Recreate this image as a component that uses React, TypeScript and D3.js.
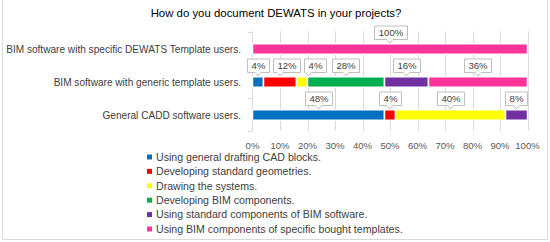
import React, { useEffect, useRef } from 'react';
import * as d3 from 'd3';

const title = 'How do you document DEWATS in your projects?';
const categories = [
	'BIM software with specific DEWATS Template users.',
	'BIM software with generic template users.',
	'General CADD software users.',
];
const seriesNames = [
	'Using general drafting CAD blocks.',
	'Developing standard geometries.',
	'Drawing the systems.',
	'Developing BIM components.',
	'Using standard components of BIM software.',
	'Using BIM components of specific bought templates.',
];
const seriesColors = ['#0070C0', '#FF0000', '#FFFF00', '#00B050', '#7030A0', '#FF3399'];
// one value per category, same order as categories
const cadBlocks = [0, 4, 48];
const stdGeometries = [0, 12, 4];
const drawingSystems = [0, 4, 40];
const bimComponents = [0, 28, 0];
const stdBimComponents = [0, 16, 8];
const boughtTemplates = [100, 36, 0];
const xTicks = [0, 10, 20, 30, 40, 50, 60, 70, 80, 90, 100];

const W = 550;
const H = 242;

const App: React.FC = () => {
	const ref = useRef<SVGGElement>(null);

	useEffect(() => {
		const g = d3.select(ref.current);
		g.selectAll('*').remove();

		const font = 'Liberation Sans, Arial, sans-serif';
		const allSeries = [cadBlocks, stdGeometries, drawingSystems, bimComponents, stdBimComponents, boughtTemplates];
		const rows = categories.map((c, i) => {
			const r: Record<string, any> = { cat: c };
			seriesNames.forEach((s, j) => (r[s] = allSeries[j][i]));
			return r;
		});
		const stacked = d3.stack().keys(seriesNames)(rows as any);

		const x = d3.scaleLinear().domain([0, 100]).range([252.5, 527.5]);
		const y = d3.scaleBand().domain(categories).range([31.5, 130.5]).paddingInner(0).paddingOuter(0);
		const barH = 10.5;
		const barY = (c: string) => (y(c) as number) + y.bandwidth() / 2 - barH / 2 + 1;

		// frame
		g.append('path')
			.attr('d', `M2.5,0 V239.5 H547.5 V0`)
			.attr('fill', 'none')
			.attr('stroke', '#d9d9d9');

		// title
		g.append('text')
			.attr('x', 276)
			.attr('y', 17)
			.attr('text-anchor', 'middle')
			.attr('font-family', font)
			.attr('font-size', 11.4)
			.attr('fill', '#000')
			.text(title);

		// grid
		g.append('g')
			.selectAll('line')
			.data(xTicks.slice(1))
			.join('line')
			.attr('x1', (d) => Math.round(x(d)) + 0.5)
			.attr('x2', (d) => Math.round(x(d)) + 0.5)
			.attr('y1', y.range()[0])
			.attr('y2', y.range()[1])
			.attr('stroke', '#d9d9d9');

		// category axis
		const yAxis = g.append('g');
		yAxis
			.append('line')
			.attr('x1', 252.5)
			.attr('x2', 252.5)
			.attr('y1', y.range()[0])
			.attr('y2', y.range()[1])
			.attr('stroke', '#d9d9d9');
		yAxis
			.selectAll('line.tick')
			.data([...categories.map((c) => y(c) as number), y.range()[1]])
			.join('line')
			.attr('class', 'tick')
			.attr('x1', 248)
			.attr('x2', 252.5)
			.attr('y1', (d) => Math.round(d) + 0.5)
			.attr('y2', (d) => Math.round(d) + 0.5)
			.attr('stroke', '#d9d9d9');
		yAxis
			.selectAll('text')
			.data(categories)
			.join('text')
			.attr('x', 241)
			.attr('y', (d) => barY(d) + barH / 2 + 3.5)
			.attr('text-anchor', 'end')
			.attr('font-family', font)
			.attr('font-size', 10.1)
			.attr('fill', '#404040')
			.text((d) => d);

		// x tick labels
		g.append('g')
			.selectAll('text')
			.data(xTicks)
			.join('text')
			.attr('x', (d) => x(d))
			.attr('y', 148.5)
			.attr('text-anchor', 'middle')
			.attr('font-family', font)
			.attr('font-size', 9.6)
			.attr('fill', '#595959')
			.text((d) => d + '%');

		// bars
		const bars = g.append('g');
		stacked.forEach((layer, si) => {
			bars.append('g')
				.selectAll('rect')
				.data(layer.filter((d) => d[1] - d[0] > 0))
				.join('rect')
				.attr('x', (d) => x(d[0]))
				.attr('width', (d) => x(d[1]) - x(d[0]))
				.attr('y', (d) => barY(d.data.cat as any))
				.attr('height', barH)
				.attr('fill', seriesColors[si])
				.attr('stroke', '#fff')
				.attr('stroke-width', 1.5);
		});

		// callout labels
		const labels = g.append('g');
		categories.forEach((c, ci) => {
			const items: { v: number; cx: number; w: number; node: any; left: number }[] = [];
			stacked.forEach((layer) => {
				const d = layer[ci];
				const v = d[1] - d[0];
				if (v <= 0) return;
				const t = labels
					.append('text')
					.attr('font-family', font)
					.attr('font-size', 9.6)
					.attr('fill', '#404040')
					.attr('text-anchor', 'middle')
					.text(v + '%');
				const tw = (t.node() as SVGTextElement).getComputedTextLength();
				const w = tw + 8;
				const cx = (x(d[0]) + x(d[1])) / 2;
				items.push({ v, cx, w, node: t, left: cx - w / 2 });
			});
			// push boxes to the right where they overlap
			for (let i = 1; i < items.length; i++) {
				const prev = items[i - 1];
				if (items[i].left < prev.left + prev.w + 4) items[i].left = prev.left + prev.w + 4;
			}
			for (let i = items.length - 1; i >= 0; i--) {
				const maxRight = i === items.length - 1 ? 527 : items[i + 1].left - 4;
				if (items[i].left + items[i].w > maxRight) items[i].left = maxRight - items[i].w;
			}
			const top = barY(c);
			const y1 = Math.round(top - 4.5) + 0.5;
			const y0 = y1 - 13.5;
			items.forEach((it) => {
				const x0 = Math.round(it.left) + 0.5;
				const x1 = x0 + Math.round(it.w);
				const px = Math.max(x0 + 4, Math.min(x1 - 4, it.cx));
				labels
					.insert('path', 'text')
					.attr(
						'd',
						`M${x0},${y0} H${x1} V${y1} H${px + 3} L${px},${y1 + 3.5} L${px - 3},${y1} H${x0} Z`
					)
					.attr('fill', '#fff')
					.attr('stroke', '#bfbfbf');
				it.node.attr('x', (x0 + x1) / 2).attr('y', y1 - 3.5);
			});
		});

		// legend
		const legend = g.append('g');
		seriesNames.forEach((s, i) => {
			const ly = 157 + i * 14.4;
			legend
				.append('rect')
				.attr('x', 147)
				.attr('y', ly - 2.5)
				.attr('width', 5)
				.attr('height', 5)
				.attr('fill', seriesColors[i]);
			legend
				.append('text')
				.attr('x', 156)
				.attr('y', ly + 3.8)
				.attr('font-family', font)
				.attr('font-size', 10.6)
				.attr('fill', '#404040')
				.text(s);
		});
	}, []);

	return (
		<svg width={W} height={H} style={{ position: 'absolute', left: 0, top: 0, background: '#fff' }}>
			<g ref={ref} />
		</svg>
	);
};

export default App;
